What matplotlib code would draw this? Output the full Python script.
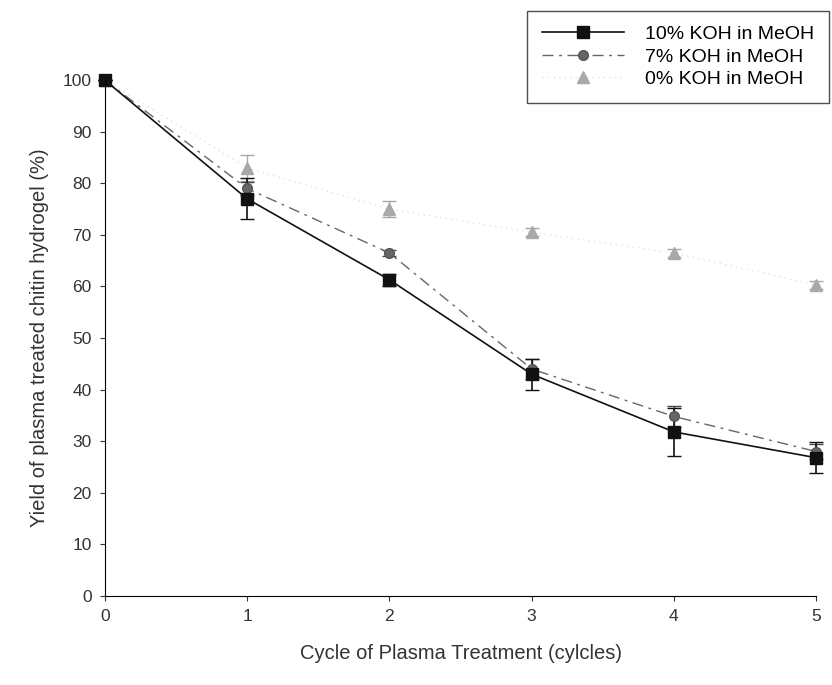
import matplotlib
matplotlib.use("Agg")
import matplotlib.pyplot as plt

cycles = [0, 1, 2, 3, 4, 5]
koh10 = [100, 77, 61.3, 43, 31.8, 26.8]
koh10_err = [0, 4, 1.2, 3, 4.7, 3]
koh7 = [100, 79, 66.5, 44, 34.8, 28]
koh7_err = [0, 1.2, 0.5, 2, 2, 1.5]
koh0 = [100, 83, 75, 70.5, 66.5, 60.3]
koh0_err = [0, 2.5, 1.5, 0.8, 0.8, 0.8]

plt.rcParams["font.family"] = ["Liberation Sans", "DejaVu Sans"]
fig = plt.figure(figsize=(8.32, 6.85), dpi=100)
ax = fig.add_axes([0.126, 0.130, 0.855, 0.753])

l0 = ax.errorbar(cycles, koh0, yerr=koh0_err, color="#e2e2e2", ls=(0, (1, 3)), lw=1,
                 marker="^", ms=8, mfc="#a8a8a8", mec="#a8a8a8", ecolor="#a8a8a8",
                 capsize=5, clip_on=False)
l7 = ax.errorbar(cycles, koh7, yerr=koh7_err, color="#666666", ls=(0, (8, 4, 2, 4)), lw=1,
                 marker="o", ms=7, mfc="#666666", mec="#555555", ecolor="#444444",
                 capsize=5, clip_on=False)
l10 = ax.errorbar(cycles, koh10, yerr=koh10_err, color="#111111", ls="-", lw=1.2,
                  marker="s", ms=9, mfc="#111111", mec="#111111", ecolor="#111111",
                  capsize=5, clip_on=False)

ax.set_xlim(0, 5)
ax.set_ylim(0, 100)
ax.set_xticks(cycles)
ax.set_yticks(range(0, 101, 10))
ax.spines["top"].set_visible(False)
ax.spines["right"].set_visible(False)
ax.tick_params(labelsize=12.5, colors="#333333", pad=6)
ax.set_xlabel("Cycle of Plasma Treatment (cylcles)", fontsize=14.5, color="#333333", labelpad=14)
ax.set_ylabel("Yield of plasma treated chitin hydrogel (%)", fontsize=14.5, color="#333333", labelpad=10)

handles = [l10[0], l7[0], l0[0]]
labels = ["10% KOH in MeOH", "7% KOH in MeOH", "0% KOH in MeOH"]
leg = fig.legend(handles, labels, loc="upper right", bbox_to_anchor=(0.996, 0.984),
                 fontsize=14, frameon=True, fancybox=False, edgecolor="#222222",
                 handlelength=4.2, handletextpad=1.1, borderpad=0.75, labelspacing=0.25,
                 borderaxespad=0)
leg.get_frame().set_linewidth(1)

fig.savefig("out.png", dpi=100)
